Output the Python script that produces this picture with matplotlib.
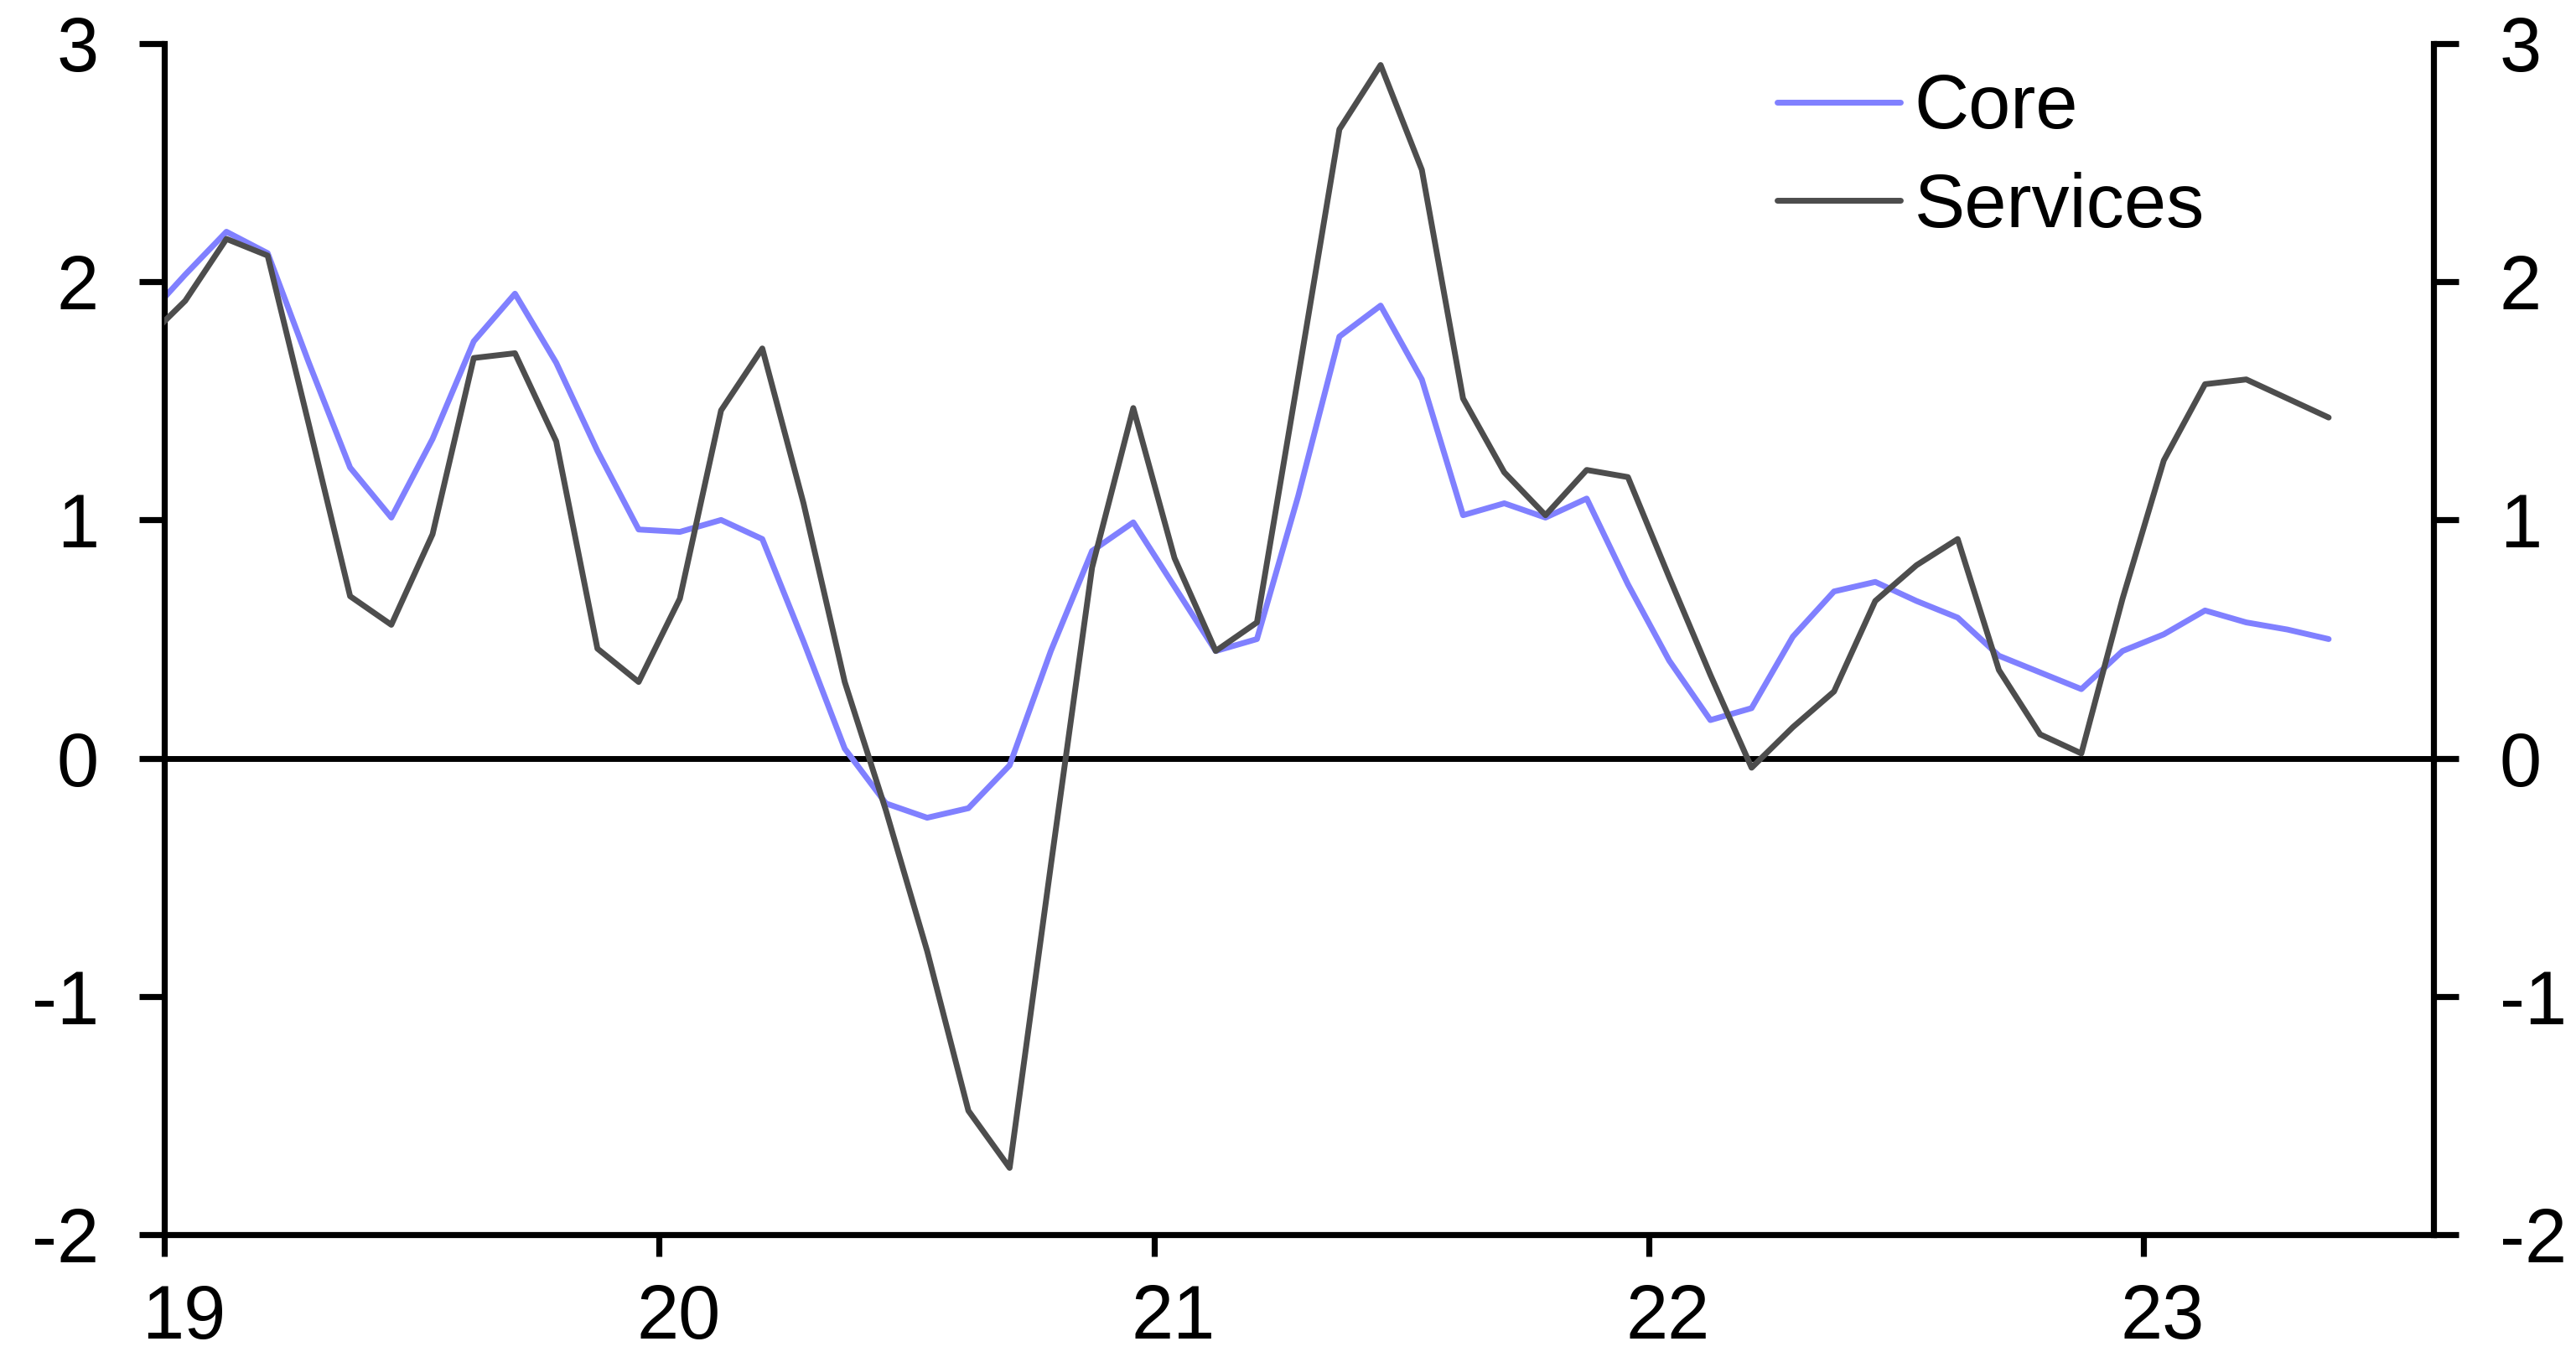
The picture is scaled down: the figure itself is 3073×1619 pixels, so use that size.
import matplotlib
matplotlib.use("Agg")
import matplotlib.pyplot as plt
import matplotlib.transforms as mtransforms
import pandas as pd

plt.rcParams['font.family'] = ['Liberation Sans', 'DejaVu Sans']

# monthly data, Dec 2018 .. May 2023
months = pd.period_range('2018-12', '2023-05', freq='M')

core = [1.84, 2.03, 2.21, 2.12, 1.66, 1.22, 1.01, 1.34, 1.75, 1.95, 1.66, 1.29, 0.96,
        0.95, 1.00, 0.92, 0.49, 0.04, -0.19, -0.25, -0.21, -0.03, 0.45, 0.87, 0.99,
        0.72, 0.45, 0.50, 1.10, 1.77, 1.90, 1.59, 1.02, 1.07, 1.01, 1.09, 0.73,
        0.41, 0.16, 0.21, 0.51, 0.70, 0.74, 0.66, 0.59, 0.43, 0.36, 0.29, 0.45,
        0.52, 0.62, 0.57, 0.54, 0.50]

services = [1.75, 1.92, 2.18, 2.11, 1.40, 0.68, 0.56, 0.94, 1.68, 1.70, 1.33, 0.46, 0.32,
            0.67, 1.46, 1.72, 1.07, 0.32, -0.22, -0.81, -1.48, -1.72, -0.45, 0.80, 1.47,
            0.84, 0.45, 0.57, 1.60, 2.64, 2.91, 2.47, 1.51, 1.20, 1.02, 1.21, 1.18,
            0.76, 0.35, -0.04, 0.13, 0.28, 0.66, 0.81, 0.92, 0.37, 0.10, 0.02, 0.67,
            1.25, 1.57, 1.59, 1.51, 1.43]

year_ticks = [2019, 2020, 2021, 2022, 2023]
year_labels = ['19', '20', '21', '22', '23']
y_ticks = [-2, -1, 0, 1, 2, 3]

# mid-month positions in years
x = [p.year + (p.month - 0.5) / 12 for p in months]

fs = 65
fig = plt.figure(figsize=(30.73, 16.19), dpi=100)
ax = fig.add_axes([0.0639, 0.0902, 0.8808, 0.8777])

ax.axhline(0, color='black', lw=5, zorder=1)
ax.plot(x, core, color='#8080ff', lw=5, label='Core', zorder=2,
        solid_capstyle='round', solid_joinstyle='round')
ax.plot(x, services, color='#4d4d4d', lw=5, label='Services', zorder=3,
        solid_capstyle='round', solid_joinstyle='round')

ax.set_xlim(2019, 2023.587)
ax.set_ylim(-2, 3)
ax.set_yticks(y_ticks)
ax.set_yticklabels([str(v) for v in y_ticks])
ax.set_xticks(year_ticks)
ax.set_xticklabels(year_labels)

for s in ['left', 'right', 'bottom']:
    ax.spines[s].set_linewidth(5.2)
ax.spines['top'].set_visible(False)

ax.tick_params(axis='y', left=True, right=True, labelleft=True, labelright=True,
               direction='out', length=21.6, width=5.2, pad=35, labelsize=fs)
ax.tick_params(axis='x', direction='out', length=19, width=5.2, pad=23, labelsize=fs)

shift = mtransforms.ScaledTranslation(0.23, 0, fig.dpi_scale_trans)
for lab in ax.get_xticklabels():
    lab.set_transform(lab.get_transform() + shift)

ax.legend(loc='upper left', bbox_to_anchor=(0.7107, 0.975), frameon=False,
          fontsize=fs, handlelength=1.63, handletextpad=0.18, labelspacing=0.36,
          borderpad=0, borderaxespad=0)

fig.savefig('out.png', dpi=100)
